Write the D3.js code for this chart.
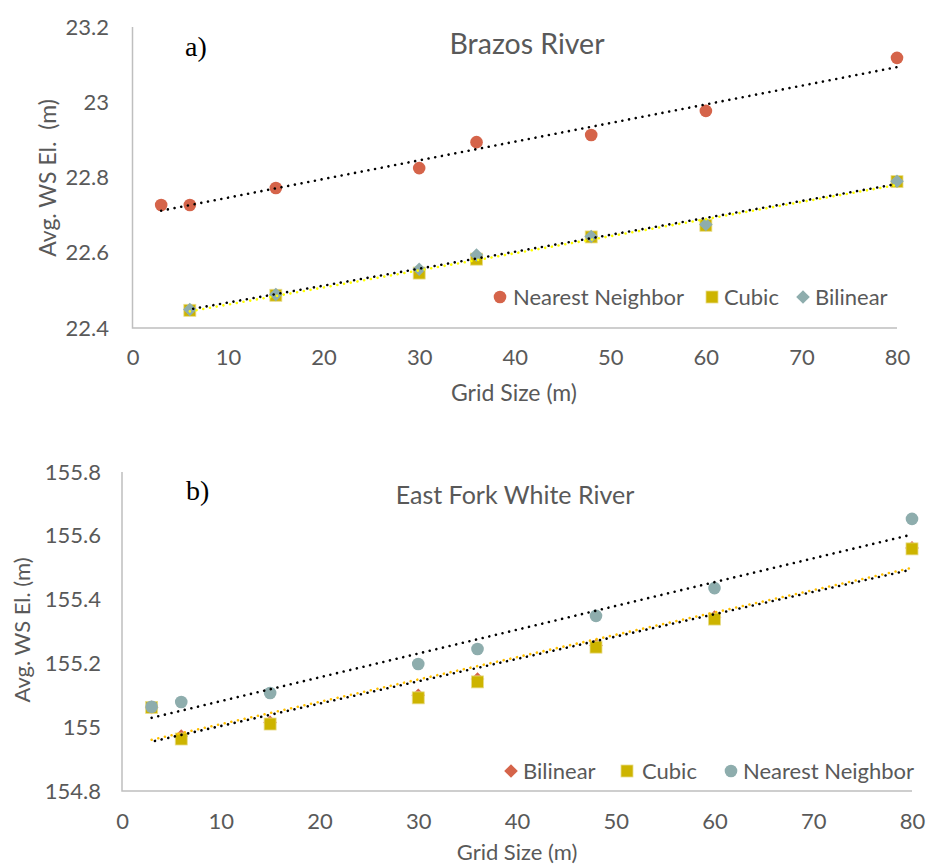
<!DOCTYPE html>
<html>
<head>
<meta charset="utf-8">
<script src="https://cdn.jsdelivr.net/npm/d3@7"></script>
<style>
  html, body { margin: 0; padding: 0; background: #fff; }
</style>
</head>
<body>
<svg id="chart" width="930" height="867"></svg>
<script>
// ---------- Data ----------
const xTicks = [0, 10, 20, 30, 40, 50, 60, 70, 80];

// a) Brazos River
const brazosGridNN = [3, 6, 15, 30, 36, 48, 60, 80];
const brazosNearest = [22.727, 22.727, 22.772, 22.825, 22.894, 22.913, 22.977, 23.118];
const brazosGrid = [6, 15, 30, 36, 48, 60, 80];
const brazosCubic = [22.447, 22.487, 22.546, 22.583, 22.642, 22.673, 22.789];
const brazosBilinear = [22.449, 22.489, 22.556, 22.594, 22.643, 22.675, 22.790];
const brazosYTicks = [22.4, 22.6, 22.8, 23, 23.2];

// b) East Fork White River
const eastGrid = [3, 6, 15, 30, 36, 48, 60, 80];
const eastNearest = [155.064, 155.079, 155.107, 155.198, 155.245, 155.349, 155.436, 155.653];
const eastCubic = [155.062, 154.963, 155.010, 155.092, 155.142, 155.251, 155.339, 155.559];
const eastBilinear = [155.062, 154.972, 155.015, 155.100, 155.151, 155.256, 155.345, 155.562];
const eastYTicks = [154.8, 155, 155.2, 155.4, 155.6, 155.8];

const RED = "#D5644A", GOLD = "#CDB400", TEAL = "#8EADAD";
const TXT = "#595959", AXIS = "#BFBFBF";
const SANS = "Lato, 'Noto Sans', sans-serif";
const SERIF = "'Liberation Serif', 'Times New Roman', serif";

const svg = d3.select("#chart");

function zip(xs, ys) { return xs.map((x, i) => ({ x, y: ys[i] })); }

function regression(pts) {
  const mx = d3.mean(pts, d => d.x), my = d3.mean(pts, d => d.y);
  let sxy = 0, sxx = 0;
  pts.forEach(d => { sxy += (d.x - mx) * (d.y - my); sxx += (d.x - mx) ** 2; });
  const b = sxy / sxx, a = my - b * mx;
  const x0 = d3.min(pts, d => d.x), x1 = d3.max(pts, d => d.x);
  return [{ x: x0, y: a + b * x0 }, { x: x1, y: a + b * x1 }];
}

function marker(g, shape, color, cx, cy) {
  if (shape === "circle") {
    g.append("circle").attr("cx", cx).attr("cy", cy).attr("r", 6.3).attr("fill", color);
  } else if (shape === "square") {
    g.append("rect").attr("x", cx - 6).attr("y", cy - 6).attr("width", 12).attr("height", 12)
      .attr("fill", color).attr("stroke", "#E8DC8A").attr("stroke-width", 0.8);
  } else {
    const s = 6.8;
    g.append("path").attr("d", `M${cx},${cy - s}L${cx + s},${cy}L${cx},${cy + s}L${cx - s},${cy}Z`)
      .attr("fill", color);
  }
}

function drawChart(cfg) {
  const g = svg.append("g");
  const x = d3.scaleLinear().domain([0, 80]).range(cfg.xRange);
  const y = d3.scaleLinear().domain(cfg.yDomain).range(cfg.yRange);

  // axis lines (L shape)
  g.append("path")
    .attr("d", `M${x(0)},${y(cfg.yDomain[1])}V${y(cfg.yDomain[0])}H${x(80)}`)
    .attr("fill", "none").attr("stroke", AXIS).attr("stroke-width", 1.5);

  // y tick labels
  const yAxis = d3.axisLeft(y).tickValues(cfg.yTicks).tickSize(0).tickPadding(0)
    .tickFormat(d => String(+d.toFixed(1)));
  const ya = g.append("g").attr("transform", `translate(${cfg.yLabelX},0)`).call(yAxis);
  ya.select(".domain").remove();
  ya.selectAll("text").style("font-size", "22px").style("fill", TXT).style("font-family", SANS);

  // x tick labels
  const xAxis = d3.axisBottom(x).tickValues(xTicks).tickSize(0).tickPadding(0);
  const xa = g.append("g").attr("transform", `translate(0,${cfg.xLabelY})`).call(xAxis);
  xa.select(".domain").remove();
  xa.selectAll("text").style("font-size", "22px").style("fill", TXT).style("font-family", SANS);

  // axis titles
  g.append("text").attr("x", cfg.xTitle[0]).attr("y", cfg.xTitle[1]).attr("text-anchor", "middle")
    .style("font-family", SANS).style("font-size", cfg.xTitleSize + "px").style("fill", TXT).text("Grid Size (m)");
  g.append("text").attr("transform", `translate(${cfg.yTitle[0]},${cfg.yTitle[1]}) rotate(-90)`)
    .attr("text-anchor", "middle").style("font-family", SANS).style("font-size", cfg.yTitleSize + "px")
    .style("fill", TXT).style("white-space", "pre").text(cfg.yTitleText);

  // chart title and panel letter
  g.append("text").attr("x", cfg.title[0]).attr("y", cfg.title[1]).attr("text-anchor", "middle")
    .style("font-family", SANS).style("font-size", cfg.titleSize + "px").style("fill", TXT).text(cfg.titleText);
  g.append("text").attr("x", cfg.letter[0]).attr("y", cfg.letter[1])
    .style("font-family", SERIF).style("font-size", "28px").style("fill", "#000").text(cfg.letterText);

  // points
  cfg.series.forEach(s => {
    const pg = g.append("g");
    zip(s.xs, s.ys).forEach(p => marker(pg, s.shape, s.color, x(p.x), y(p.y)));
  });

  // trendlines (linear least squares on each series)
  cfg.series.forEach(s => {
    const line = regression(zip(s.xs, s.ys));
    g.append("line")
      .attr("x1", x(line[0].x)).attr("y1", y(line[0].y))
      .attr("x2", x(line[1].x)).attr("y2", y(line[1].y))
      .attr("stroke", s.trend).attr("stroke-width", 2.6)
      .attr("stroke-linecap", "round")
      .attr("stroke-dasharray", "0.01 " + s.gap)
      .attr("stroke-dashoffset", s.offset);
  });

  // legend
  const lg = g.append("g");
  cfg.legend.forEach(item => {
    const s = cfg.series.find(d => d.name === item.name);
    marker(lg, s.shape, s.color, item.mx, cfg.legendY);
    lg.append("text").attr("x", item.tx).attr("y", cfg.legendY).attr("dy", "0.35em")
      .style("font-family", SANS).style("font-size", "22px").style("fill", TXT).text(item.name);
  });
}

drawChart({
  xRange: [132.5, 897], yDomain: [22.4, 23.2], yRange: [328, 27],
  yTicks: brazosYTicks, yLabelX: 109, xLabelY: 349,
  xTitle: [514, 401], xTitleSize: 23, yTitle: [56, 178], yTitleText: "Avg. WS El.  (m)", yTitleSize: 23,
  title: [527, 54], titleText: "Brazos River", titleSize: 28.5,
  letter: [185, 56], letterText: "a)",
  series: [
    { name: "Nearest Neighbor", xs: brazosGridNN, ys: brazosNearest, shape: "circle", color: RED, trend: "#000", gap: 6.8, offset: 0 },
    { name: "Cubic", xs: brazosGrid, ys: brazosCubic, shape: "square", color: GOLD, trend: "#FFFF00", gap: 6.8, offset: 0 },
    { name: "Bilinear", xs: brazosGrid, ys: brazosBilinear, shape: "diamond", color: TEAL, trend: "#000", gap: 6.8, offset: 3.4 }
  ],
  legendY: 297,
  legend: [
    { name: "Nearest Neighbor", mx: 500, tx: 513 },
    { name: "Cubic", mx: 712, tx: 724 },
    { name: "Bilinear", mx: 803, tx: 815 }
  ]
});

drawChart({
  xRange: [122, 912], yDomain: [154.8, 155.8], yRange: [791, 472],
  yTicks: eastYTicks, yLabelX: 101, xLabelY: 813,
  xTitle: [517, 860], xTitleSize: 22, yTitle: [30, 630], yTitleText: "Avg. WS El. (m)", yTitleSize: 22,
  title: [515, 504], titleText: "East Fork White River", titleSize: 25,
  letter: [186, 500], letterText: "b)",
  series: [
    { name: "Bilinear", xs: eastGrid, ys: eastBilinear, shape: "diamond", color: RED, trend: "#FFC000", gap: 6.8, offset: 0 },
    { name: "Cubic", xs: eastGrid, ys: eastCubic, shape: "square", color: GOLD, trend: "#000", gap: 6.8, offset: 3.4 },
    { name: "Nearest Neighbor", xs: eastGrid, ys: eastNearest, shape: "circle", color: TEAL, trend: "#000", gap: 6.8, offset: 0 }
  ],
  legendY: 771,
  legend: [
    { name: "Bilinear", mx: 511, tx: 523 },
    { name: "Cubic", mx: 627, tx: 642 },
    { name: "Nearest Neighbor", mx: 731, tx: 743 }
  ]
});
</script>
</body>
</html>
